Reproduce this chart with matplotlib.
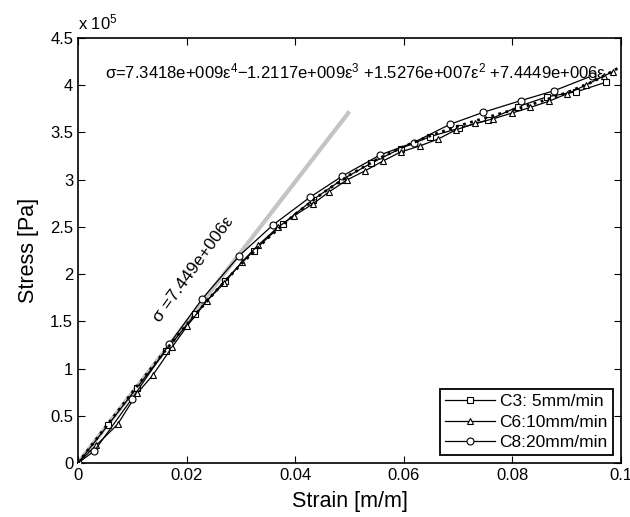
import matplotlib.pyplot as plt
from matplotlib.ticker import FuncFormatter

plt.rcParams['font.family'] = ['Liberation Sans', 'DejaVu Sans']
plt.rcParams['mathtext.fontset'] = 'custom'
plt.rcParams['mathtext.rm'] = 'Liberation Sans'
plt.rcParams['mathtext.it'] = 'Liberation Sans'

# C3: 5mm/min (squares)
c3_strain = [0, 0.0055, 0.0108, 0.0162, 0.0216, 0.0270, 0.0324, 0.0378, 0.0432, 0.0486,
             0.0540, 0.0594, 0.0648, 0.0702, 0.0756, 0.0810, 0.0864, 0.0918, 0.0972]
c3_stress = [0, 40000, 79500, 119000, 157500, 193000, 225000, 253500, 278500, 300000,
             317500, 333000, 345500, 354500, 363200, 377200, 387800, 393100, 403100]

# C6: 10mm/min (triangles)
c6_strain = [0, 0.0034, 0.0073, 0.0109, 0.0138, 0.0173, 0.0201, 0.0237, 0.0269, 0.0302,
             0.0332, 0.0368, 0.0397, 0.0432, 0.0463, 0.0495, 0.0529, 0.0562, 0.0594, 0.0629,
             0.0663, 0.0697, 0.0731, 0.0765, 0.0799, 0.0833, 0.0867, 0.0901, 0.0935, 0.0969,
             0.0986]
c6_stress = [0, 19000, 41000, 73800, 93200, 122500, 145000, 171500, 190300, 213100,
             230800, 249600, 261500, 274200, 287300, 299600, 309500, 319800, 329300, 335600,
             343000, 353000, 359500, 364500, 370500, 376500, 383000, 391000, 400000, 410000,
             414500]

# C8: 20mm/min (circles)
c8_strain = [0, 0.0030, 0.0099, 0.0168, 0.0229, 0.0297, 0.0359, 0.0427, 0.0487, 0.0556,
             0.0618, 0.0685, 0.0746, 0.0816, 0.0877, 0.0946]
c8_stress = [0, 12700, 67800, 125700, 174000, 219500, 252000, 281300, 303900, 326100,
             339300, 358600, 371300, 383800, 394200, 409800]

# 4th order polynomial fit
fit_strain = [0, 0.005, 0.01, 0.015, 0.02, 0.025, 0.03, 0.035, 0.04, 0.045, 0.05,
              0.055, 0.06, 0.065, 0.07, 0.075, 0.08, 0.085, 0.09, 0.095, 0.1]
fit_stress = [0, 37460, 74840, 111390, 146490, 179600, 210330, 238350, 263480, 285640, 304860,
              321270, 335110, 346750, 356660, 365410, 373690, 382300, 392140, 404240, 419730]

# initial linear slope line
lin_strain = [0, 0.05]
lin_stress = [0, 372245]

fig = plt.figure(figsize=(6.3, 5.17), dpi=100)
ax = fig.add_axes([0.1238, 0.1044, 0.8619, 0.8221])

ax.plot(lin_strain, lin_stress, color='#c4c4c4', lw=3, solid_capstyle='butt', zorder=1)
ax.plot(fit_strain, fit_stress, color='black', ls=':', lw=2, zorder=4)
ax.plot(c3_strain, c3_stress, 'k-s', lw=0.9, ms=4, mfc='white', mew=0.8, label='C3: 5mm/min', zorder=3)
ax.plot(c6_strain, c6_stress, 'k-^', lw=0.9, ms=5, mfc='white', mew=0.8, label='C6:10mm/min', zorder=3)
ax.plot(c8_strain, c8_stress, 'k-o', lw=0.9, ms=5, mfc='white', mew=0.8, label='C8:20mm/min', zorder=3)

ax.set_xlim(0, 0.1)
ax.set_ylim(0, 4.5e5)
ax.set_xticks([0, 0.02, 0.04, 0.06, 0.08, 0.1])
ax.set_yticks([i * 0.5e5 for i in range(10)])
ax.xaxis.set_major_formatter(FuncFormatter(lambda v, p: '%g' % round(v, 4)))
ax.yaxis.set_major_formatter(FuncFormatter(lambda v, p: '%g' % round(v / 1e5, 2)))
ax.tick_params(direction='in', top=True, right=True, labelsize=12, length=5, width=0.8)
for s in ax.spines.values():
    s.set_linewidth(1.2)

ax.set_xlabel('Strain [m/m]', fontsize=15.5, labelpad=6)
ax.set_ylabel('Stress [Pa]', fontsize=15.5, labelpad=8)
ax.text(0.0, 1.012, r'x 10$^{5}$', transform=ax.transAxes, fontsize=12, ha='left', va='bottom')

ax.text(0.0049, 4.15e5, 'σ=7.3418e+009ε$^{4}$−1.2117e+009ε$^{3}$ +1.5276e+007ε$^{2}$ +7.4449e+006ε',
        fontsize=12, ha='left', va='center')
ax.text(0.0212, 2.05e5, 'σ =7.449e+006ε', fontsize=12.5, rotation=54,
        ha='center', va='center', rotation_mode='anchor')

leg = ax.legend(loc='lower right', fontsize=12.5, frameon=True, fancybox=False,
                edgecolor='black', framealpha=1, borderaxespad=0.45, handlelength=2.9,
                labelspacing=0.3, borderpad=0.3, handletextpad=0.25)
leg.get_frame().set_linewidth(1.3)

fig.savefig('out.png', dpi=100)
